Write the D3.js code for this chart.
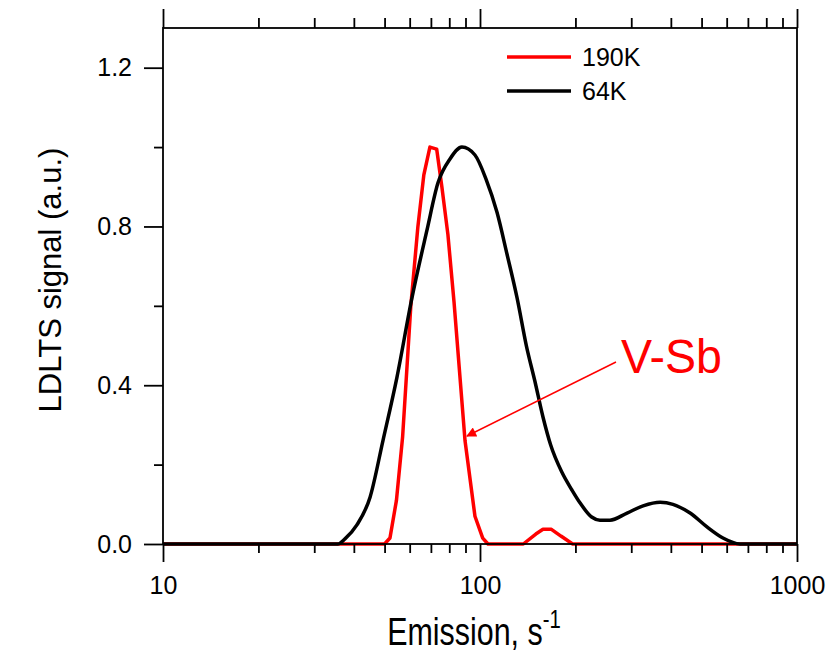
<!DOCTYPE html>
<html>
<head>
<meta charset="utf-8">
<script src="https://cdn.jsdelivr.net/npm/d3@7"></script>
<style>
  body { margin: 0; background: #fff; }
  text { font-family: "Liberation Sans", Arial, sans-serif; }
</style>
</head>
<body>
<div id="chart"></div>
<script>
// Data: [emission rate (s^-1), signal]
var red190 = [
  [10, 0], [50, 0], [52, 0.015], [54.5, 0.11], [57, 0.27], [60.5, 0.6],
  [63.7, 0.8], [66.5, 0.93], [69.5, 1.0], [73, 0.995], [75.8, 0.9],
  [79.2, 0.78], [82.8, 0.61], [89.7, 0.26], [96.4, 0.07], [102, 0.015],
  [106, 0], [137, 0], [150, 0.025], [158, 0.037], [168, 0.037],
  [180, 0.02], [196, 0], [1000, 0]
];
var black64 = [
  [10, 0], [35.6, 0], [37.5, 0.013], [40.9, 0.048], [45, 0.118],
  [49.4, 0.26], [54.7, 0.42], [61, 0.62], [68, 0.79], [73.7, 0.91],
  [80.4, 0.97], [87.7, 1.0], [96.4, 0.98], [104.4, 0.92], [113.2, 0.835],
  [121.7, 0.73], [130.9, 0.62], [140, 0.5], [149, 0.41], [158, 0.32],
  [167, 0.25], [181.5, 0.18], [195, 0.136], [207, 0.103], [225, 0.068],
  [239, 0.06], [257, 0.06], [291, 0.078], [327, 0.096], [370, 0.105],
  [406, 0.1], [460, 0.078], [520, 0.043], [584, 0.015], [661, 0], [1000, 0]
];
var xMajor = [10, 100, 1000];
var xMinor = [20, 30, 40, 50, 60, 70, 80, 90, 200, 300, 400, 500, 600, 700, 800, 900];
var yMajor = [0, 0.4, 0.8, 1.2];
var yMinor = [0.2, 0.6, 1.0];
var legendNames = ["190K", "64K"];
var legendColors = ["#ff0000", "#000000"];

var margin = { top: 28, right: 37, bottom: 111, left: 163 };
var width = 834 - margin.left - margin.right,
  height = 655 - margin.top - margin.bottom;

var svg = d3.select("#chart").append("svg")
  .attr("width", 834)
  .attr("height", 655);

var g = svg.append("g")
  .attr("transform", "translate(" + margin.left + "," + margin.top + ")");

var x = d3.scaleLog().domain([10, 1000]).range([0, width]);
var y = d3.scaleLinear().domain([0, 1.3]).range([height, 0]);

// curves: red first, black drawn on top
var redLine = d3.line()
  .x(function(d) { return x(d[0]); })
  .y(function(d) { return y(d[1]); });
var blackLine = d3.line()
  .curve(d3.curveMonotoneX)
  .x(function(d) { return x(d[0]); })
  .y(function(d) { return y(d[1]); });

g.append("path").datum(red190)
  .attr("fill", "none").attr("stroke", "#ff0000")
  .attr("stroke-width", 3.5).attr("stroke-linejoin", "round")
  .attr("d", redLine);
g.append("path").datum(black64)
  .attr("fill", "none").attr("stroke", "#000")
  .attr("stroke-width", 3.5).attr("stroke-linejoin", "round")
  .attr("d", blackLine);

// axes
function styleAxis(sel) {
  sel.selectAll("path").remove();
  sel.selectAll("line").attr("stroke", "#000").attr("stroke-width", 1.8);
  sel.selectAll("text").attr("font-size", 25).attr("fill", "#000")
    .style("font-family", "'Liberation Sans', Arial, sans-serif");
}

g.append("g").attr("transform", "translate(0," + height + ")")
  .call(d3.axisBottom(x).tickValues(xMajor).tickFormat(d3.format("d"))
    .tickSize(18).tickPadding(14))
  .call(styleAxis);
g.append("g").attr("transform", "translate(0," + height + ")")
  .call(d3.axisBottom(x).tickValues(xMinor).tickFormat("").tickSize(9))
  .call(styleAxis);
g.append("g")
  .call(d3.axisTop(x).tickValues(xMajor).tickFormat("").tickSize(19))
  .call(styleAxis);
g.append("g")
  .call(d3.axisTop(x).tickValues(xMinor).tickFormat("").tickSize(10))
  .call(styleAxis);
g.append("g")
  .call(d3.axisLeft(y).tickValues(yMajor).tickFormat(d3.format(".1f"))
    .tickSize(19).tickPadding(12))
  .call(styleAxis);
g.append("g")
  .call(d3.axisLeft(y).tickValues(yMinor).tickFormat("").tickSize(9))
  .call(styleAxis);

// frame
g.append("rect")
  .attr("width", width).attr("height", height)
  .attr("fill", "none").attr("stroke", "#000").attr("stroke-width", 1.8);

// axis titles (x title is drawn taller and narrower, as in the original)
var xt = svg.append("text")
  .attr("transform", "translate(" + (margin.left + width / 2 - 6) + ",645) scale(0.78,1)")
  .attr("text-anchor", "middle").attr("font-size", 39);
xt.append("tspan").text("Emission, s");
xt.append("tspan").attr("font-size", 26).attr("dy", -17).text("-1");

svg.append("text")
  .attr("transform", "translate(61," + (margin.top + height / 2 - 6) + ") rotate(-90)")
  .attr("text-anchor", "middle").attr("font-size", 31)
  .text("LDLTS signal (a.u.)");

// legend
var leg = g.selectAll(".legend").data(legendNames).enter().append("g")
  .attr("class", "legend")
  .attr("transform", function(d, i) { return "translate(344," + (29 + i * 34) + ")"; });
leg.append("line")
  .attr("x1", 0).attr("x2", 64)
  .attr("stroke", function(d, i) { return legendColors[i]; })
  .attr("stroke-width", 3.5);
leg.append("text")
  .attr("x", 75).attr("y", 9)
  .attr("font-size", 25)
  .text(function(d) { return d; });

// annotation
svg.append("defs").append("marker")
  .attr("id", "arrow").attr("viewBox", "0 0 10 10")
  .attr("refX", 9).attr("refY", 5)
  .attr("markerWidth", 14).attr("markerHeight", 10)
  .attr("markerUnits", "userSpaceOnUse")
  .attr("orient", "auto")
  .append("path").attr("d", "M0,0 L10,5 L0,10 z").attr("fill", "#ff0000");

svg.append("line")
  .attr("x1", 616).attr("y1", 362).attr("x2", 467).attr("y2", 436)
  .attr("stroke", "#ff0000").attr("stroke-width", 1.5)
  .attr("marker-end", "url(#arrow)");

svg.append("text")
  .attr("transform", "translate(621,373) scale(0.95,1)")
  .attr("font-size", 49).attr("fill", "#ff0000")
  .text("V-Sb");
</script>
</body>
</html>
